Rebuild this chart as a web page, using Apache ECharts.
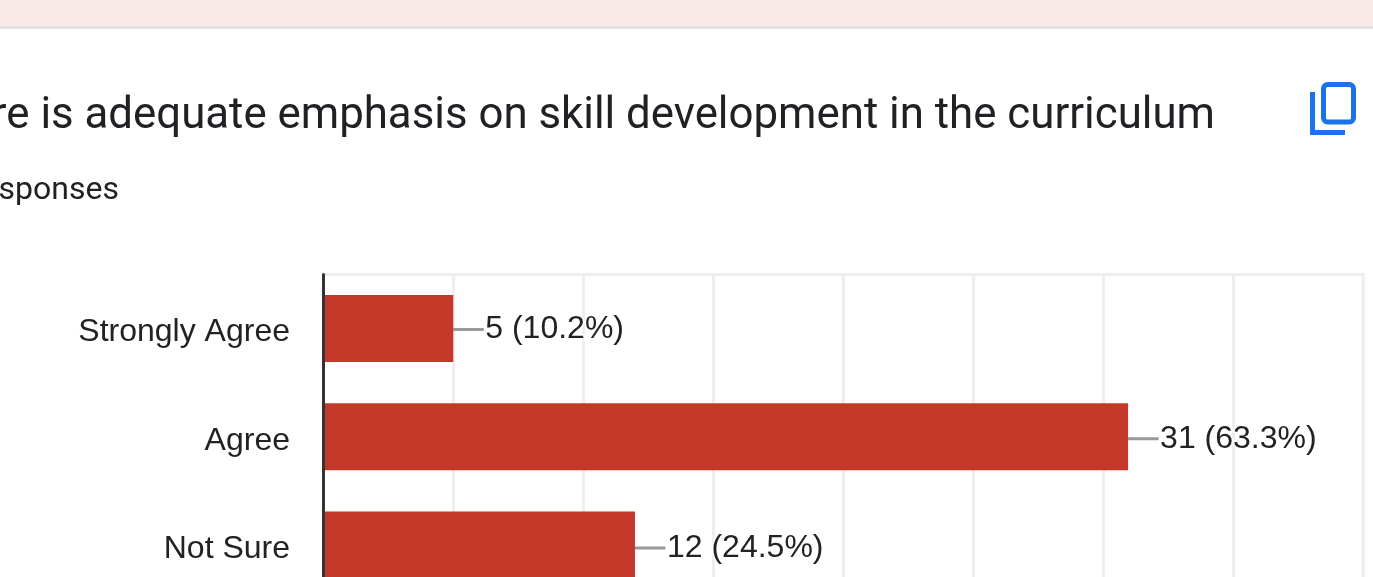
<!DOCTYPE html>
<html><head><meta charset="utf-8">
<style>html,body{margin:0;padding:0;background:#fff;overflow:hidden}#c{width:1373px;height:577px}</style>
<script src="https://cdn.jsdelivr.net/npm/echarts@6/dist/echarts.min.js"></script>
</head><body><div id="c"></div>
<script>
const categories = ['Strongly Agree', 'Agree', 'Not Sure'];
const counts = [5, 31, 12];
const percents = ['10.2', '63.3', '24.5'];
const titleText = 're is adequate emphasis on skill development in the curriculum';
const subtitleText = 'sponses';

const chart = echarts.init(document.getElementById('c'), null, {renderer: 'canvas'});
chart.setOption({
  animation: false,
  backgroundColor: '#fff',
  grid: {left: 323.5, right: 10, top: 274.375, height: 324.75, containLabel: false, outerBoundsMode: 'none',
         show: true, borderColor: '#eeeeee', borderWidth: 3, backgroundColor: 'transparent'},
  xAxis: [
    {type: 'value', min: 0, max: 40.05, show: false},
    {type: 'value', min: 0, max: 40, interval: 5, position: 'top',
     axisLine: {show: false}, axisTick: {show: false}, axisLabel: {show: false},
     splitLine: {show: true, lineStyle: {color: '#eeeeee', width: 3}}}
  ],
  yAxis: {
    type: 'category', data: categories, inverse: true, z: 5,
    axisLine: {show: true, lineStyle: {color: '#333333', width: 3}},
    axisTick: {show: false},
    axisLabel: {color: '#222222', fontFamily: 'Liberation Sans', fontSize: 32, margin: 33.5,
      verticalAlign: 'top', lineHeight: 8, hideOverlap: false}
  },
  series: [{
    type: 'bar', xAxisIndex: 0, data: counts, barWidth: 67, z: 3,
    itemStyle: {color: '#c43829'},
    label: {show: true, position: 'right', distance: 0, color: '#222222',
      fontFamily: 'Liberation Sans', fontSize: 32,
      textBorderColor: '#ffffff', textBorderWidth: 3,
      formatter: p => counts[p.dataIndex] + ' (' + percents[p.dataIndex] + '%)'},
    labelLayout: p => ({dx: 32, dy: 1 + p.dataIndex, hideOverlap: false}),
    labelLine: {show: true, lineStyle: {color: '#999999', width: 3}}
  }],
  graphic: [
    {type: 'rect', shape: {x: 0, y: 0, width: 1373, height: 26}, style: {fill: '#f9eaea'}, silent: true},
    {type: 'rect', shape: {x: 0, y: 26, width: 1373, height: 3}, style: {fill: '#e1e2e7'}, silent: true},
    {type: 'text', x: 1215, y: 117, style: {text: titleText, align: 'right', verticalAlign: 'middle',
      fontFamily: 'Roboto', fontSize: 43.8, fill: '#202124'}},
    {type: 'text', x: 119, y: 191, style: {text: subtitleText, align: 'right', verticalAlign: 'middle',
      fontFamily: 'Roboto', fontSize: 32, fill: '#202124'}},
    {type: 'rect', shape: {x: 1323.5, y: 84.5, width: 30, height: 37.5, r: 4},
      style: {fill: 'none', stroke: '#1a73e8', lineWidth: 5}},
    {type: 'polyline', shape: {points: [[1312.5, 92], [1312.5, 132.5], [1345, 132.5]]},
      style: {fill: 'none', stroke: '#1a73e8', lineWidth: 5}}
  ]
});
</script></body></html>
